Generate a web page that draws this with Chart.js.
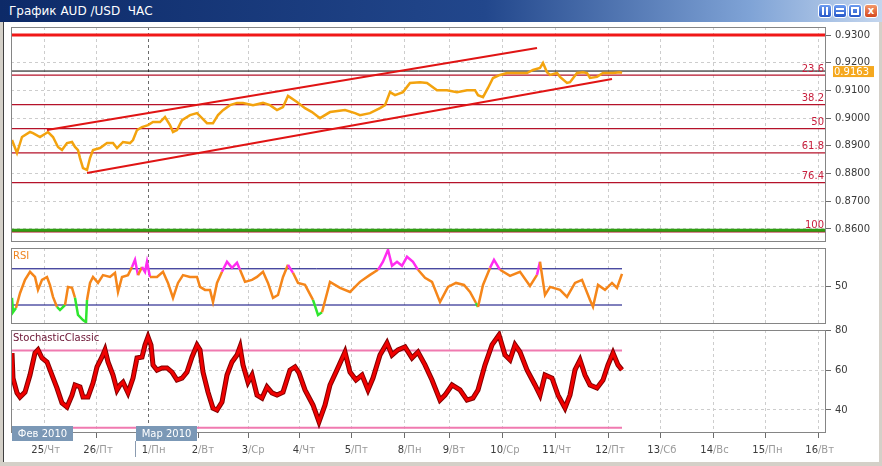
<!DOCTYPE html>
<html>
<head>
<meta charset="utf-8">
<title>AUD/USD</title>
<script src="https://cdn.jsdelivr.net/npm/chart.js@4.4.0/dist/chart.umd.min.js"></script>
<style>
  body { margin:0; width:882px; height:466px; overflow:hidden; background:#d4d0c8; position:relative; font-family:"DejaVu Sans", Verdana, sans-serif; }
  #titleBar { position:absolute; left:0; top:0; width:882px; height:22px; background:linear-gradient(to right,#0d2a68 0%,#22478c 55%,#7fa3d6 85%,#c4d6ee 100%); }
  #titleText { position:absolute; left:9px; top:4px; color:#fff; font-size:12px; white-space:pre; }
  .winBtn { position:absolute; top:4px; width:14px; height:14px; box-sizing:border-box; border:1px solid #fff; border-radius:3px; background:linear-gradient(#6d9cf0,#2456c8); }
  .winBtn i { position:absolute; background:#fff; }
  #client { position:absolute; left:3px; top:22px; width:876px; height:440px; background:#fff; border-left:1px solid #404040; box-sizing:border-box; }
  .panel { position:absolute; left:0; }
  .tag { position:absolute; font-size:10px; line-height:12px; }
  .month { position:absolute; top:426px; width:61px; height:15px; background:#7b98b6; color:#fff; font-size:10px; line-height:15px; text-align:center; }
</style>
</head>
<body>
<div id="titleBar">
  <div id="titleText">График AUD /USD  ЧАС</div>
  <div class="winBtn" style="left:818px"><i style="left:3px;top:2px;width:2px;height:8px"></i><i style="left:7px;top:2px;width:2px;height:8px"></i></div>
  <div class="winBtn" style="left:833px"><i style="left:2px;top:3px;width:8px;height:2px"></i><i style="left:2px;top:7px;width:8px;height:2px"></i></div>
  <div class="winBtn" style="left:848px"><i style="left:2px;top:2px;width:8px;height:8px;background:none;border:2px solid #fff;box-sizing:border-box"></i></div>
  <div class="winBtn" style="left:864px;background:linear-gradient(#f39a6c,#d4461c);color:#fff;font-size:10px;line-height:12px;text-align:center;font-weight:bold">x</div>
</div>
<div id="client"></div>
<canvas id="mainChart" class="panel" width="882" height="223" style="top:22px"></canvas>
<canvas id="rsiChart" class="panel" width="882" height="80" style="top:245px"></canvas>
<canvas id="stochChart" class="panel" width="882" height="137" style="top:325px"></canvas>
<div class="tag" style="left:13px;top:250px;color:#ee8420">RSI</div>
<div class="tag" style="left:13px;top:332px;color:#6a1232">StochasticClassic</div>
<div class="month" style="left:12px">Фев 2010</div>
<div class="month" style="left:136px">Мар 2010</div>
<div style="position:absolute;left:135px;top:441px;width:1px;height:16px;background:#8a9bb0"></div>

<script>
// x axis unit = bar position (hourly bars), day separators
const xMax = 407.5;
const dayTicks = [16.5, 42.5, 68.5, 93.5, 118.5, 144, 170, 196.5, 219, 246, 272, 298.5, 324.5, 351, 377, 403.5];
const dayNums  = ["25", "26", "1", "2", "3", "4", "5", "8", "9", "10", "11", "12", "13", "14", "15", "16"];
const dayNames = ["Чт", "Пт", "Пн", "Вт", "Ср", "Чт", "Пт", "Пн", "Вт", "Ср", "Чт", "Пт", "Сб", "Вс", "Пн", "Вт"];
const monthStart = 68.5;
const lastBar = 305.5;

// price (close)
const priceBars = [
  0.5, 3, 5.5, 9.5, 11, 14.5, 18.5, 21, 23.5, 25.5,
  28, 30.5, 32, 33.5, 34.5, 36, 38, 39.5, 41, 44.5,
  48, 51, 53, 56, 59.5, 61, 63, 65.5, 68.5, 71,
  74.5, 77, 79.5, 81, 83, 85.5, 89.5, 93, 95.5, 98,
  101, 103.5, 106, 109.5, 113, 116, 121, 126, 129.5, 133,
  136, 138.5, 143, 147, 150.5, 154.5, 159.5, 167, 172, 174.5,
  179.5, 184.5, 187, 189.5, 192, 196, 199.5, 204.5, 208, 213,
  218, 223, 228, 232, 233.5, 236, 238.5, 241, 244.5, 248,
  253, 258, 261, 264.5, 266, 268, 269.5, 273, 274.5, 278,
  279.5, 283, 286, 288, 289.5, 293, 296, 301, 304.5, 305.5
];
const priceClose = [
  0.8921, 0.8874, 0.8932, 0.8950, 0.8946, 0.8932, 0.8950, 0.8932, 0.8896, 0.8885,
  0.8910, 0.8914, 0.8896, 0.8885, 0.8856, 0.8820, 0.8813, 0.8856, 0.8885, 0.8892,
  0.8910, 0.8910, 0.8892, 0.8914, 0.8910, 0.8921, 0.8957, 0.8968, 0.8975, 0.8986,
  0.8986, 0.9004, 0.8975, 0.8950, 0.8957, 0.8993, 0.9011, 0.9018, 0.9000, 0.8982,
  0.8982, 0.9011, 0.9029, 0.9047, 0.9055, 0.9055, 0.9047, 0.9055, 0.9047, 0.9029,
  0.9040, 0.9080, 0.9058, 0.9036, 0.9022, 0.9000, 0.9022, 0.9029, 0.9018, 0.9011,
  0.9018, 0.9036, 0.9047, 0.9094, 0.9083, 0.9094, 0.9127, 0.9130, 0.9127, 0.9101,
  0.9101, 0.9094, 0.9101, 0.9101, 0.9083, 0.9076, 0.9109, 0.9145, 0.9156, 0.9163,
  0.9163, 0.9163, 0.9174, 0.9181, 0.9199, 0.9166, 0.9156, 0.9163, 0.9149, 0.9127,
  0.9130, 0.9163, 0.9166, 0.9163, 0.9145, 0.9149, 0.9163, 0.9163, 0.9166, 0.9163
];
const priceTicks = [0.86, 0.87, 0.88, 0.89, 0.90, 0.91, 0.92, 0.93];

// channel
const upperBars = [18, 263];
const upperValues = [0.8957, 0.9253];
const lowerBars = [38, 300.5];
const lowerValues = [0.8802, 0.9141];

// levels
const fibLevels = [0.9155, 0.9049, 0.8962, 0.8875, 0.8767, 0.8590];
const fibLabels = ["23.6", "38.2", "50", "61.8", "76.4", "100"];
const redLevel = 0.9300;
const greenLevel = 0.8595;
const bidLevel = 0.9170;
const lastPriceText = "0.9163";

// RSI
const rsiBars = [
  0.5, 1, 2.5, 4.5, 7, 9.5, 12, 13.5, 15.5, 18,
  19.5, 21, 23, 24.5, 27, 28.5, 30.5, 32, 33.5, 36,
  37.5, 38, 39.5, 41, 43.5, 46, 49.5, 52, 53.5, 55.5,
  58.5, 60.5, 62, 63.5, 65.5, 67, 68, 69.5, 73, 76,
  78.5, 81, 83.5, 86, 89.5, 93, 94.5, 97, 99.5, 101,
  103, 105.5, 108, 110.5, 113, 114.5, 117, 120.5, 123, 126,
  128.5, 131, 133.5, 136, 138.5, 141, 143.5, 147, 151, 153.5,
  155.5, 159.5, 164.5, 169.5, 174.5, 179.5, 183.5, 186, 188.5, 190.5,
  193, 195.5, 198, 201, 203.5, 207, 210.5, 214.5, 218.5, 222.5,
  226.5, 229.5, 232.5, 233.5, 236, 239.5, 241.5, 244.5, 249.5, 254.5,
  259.5, 263, 264.5, 267, 269.5, 274.5, 278, 282, 285.5, 289.5,
  291, 293.5, 297, 300.5, 303, 305.5
];
const rsiValues = [
  37.8, 22, 26.7, 43, 57.8, 66.7, 61, 46.7, 57.8, 61,
  52, 39, 27.8, 24.4, 30, 50, 49, 38, 19, 13.3,
  11, 35.6, 54.4, 61, 54.4, 63, 61, 65.6, 44.4, 61,
  63, 72, 80, 63, 72, 66.7, 77.8, 61, 61, 66.7,
  54.4, 37.8, 54.4, 63, 61, 61, 50, 46.7, 46.7, 33.3,
  54.4, 66.7, 77.8, 71, 76.7, 68.9, 55.6, 57.8, 61, 66.7,
  54.4, 37.8, 41, 61, 74.4, 65.6, 54.4, 52.2, 35.6, 19,
  22, 55.6, 48.9, 44.4, 55.6, 63.3, 68.9, 77.8, 91, 73.3,
  77.8, 73.3, 83.3, 77.8, 68.9, 60, 55.6, 33.3, 50, 54.4,
  52.2, 44.4, 32.2, 27.8, 52.2, 71, 80, 68.9, 62.2, 66.7,
  51.1, 63.3, 77.8, 41, 50, 46.7, 38.9, 54.4, 57.8, 35.6,
  28, 52.2, 46.7, 54.4, 48.9, 64.4
];
const rsiLevels = [70, 30];

// Stochastic
const stochBars = [
  0.5, 1, 3, 4.5, 7, 9.5, 12, 13.5, 15.5, 18,
  20.5, 23, 25.5, 28, 30.5, 32, 34.5, 36, 38.5, 41,
  43, 45.5, 47, 48.5, 51, 53, 54.5, 56, 58.5, 61,
  63, 65.5, 67, 68.5, 70, 71, 73, 75.5, 78, 80.5,
  83, 85.5, 88, 90.5, 93, 94.5, 96, 98.5, 101, 103,
  105.5, 108, 110.5, 113, 114.5, 116, 118.5, 120.5, 123, 125.5,
  128, 130.5, 133, 136, 139.5, 142, 144, 147, 151, 154,
  157, 159.5, 163, 167, 169.5, 172.5, 175.5, 178.5, 181, 184.5,
  188, 190.5, 193.5, 197, 200.5, 203.5, 207, 210.5, 214.5, 217,
  220.5, 224.5, 228, 231, 233.5, 237, 240.5, 244, 247, 249.5,
  252, 254.5, 258, 262, 264.5, 267, 270.5, 273.5, 277, 279.5,
  282, 284.5, 287, 289.5, 293, 296, 298.5, 301, 303.5, 305.5
];
const stochValues = [
  68.7, 56, 48.6, 46.5, 49, 57.6, 68.7, 70.3, 66.2, 64.2,
  57.6, 51, 43.5, 41.5, 47.5, 52.6, 51.6, 46.5, 46.5, 53.6,
  61.7, 66.7, 70.3, 64.2, 57.6, 50, 52.6, 54, 48.6, 56,
  66.2, 66.7, 72.7, 76.8, 72.7, 62.7, 60.1, 61.2, 61.2, 59.1,
  55.1, 56, 59.1, 66.7, 72.7, 70.3, 59.1, 49, 40.9, 40,
  44, 57.6, 64.2, 67.7, 71.8, 62.7, 54, 57.6, 47.5, 46,
  51.6, 48.6, 47.5, 49, 60.1, 61.7, 58.7, 50.1, 42.5, 34,
  42.5, 52.6, 60.2, 69.2, 59.1, 55.1, 57.6, 50.1, 56.1, 67.7,
  73.8, 67.7, 70.3, 71.8, 66.2, 69.2, 62.7, 55.1, 45, 47.5,
  52.6, 50.1, 45, 46, 50.1, 62.7, 72.8, 77.8, 67.7, 65.2,
  72.8, 69.2, 60.2, 52.6, 47.5, 57.6, 56.1, 47.5, 41, 47.5,
  60.2, 65.2, 57.6, 52.6, 51.1, 55.1, 62.7, 68.7, 62.7, 60.2
];
const stochLevels = [70, 31];

const FONT = { family: "DejaVu Sans", size: 10 };

function pts(xs, ys) {
  return xs.map((x, i) => ({ x: x, y: ys[i] }));
}
function hline(v, x0, x1) {
  return [{ x: x0, y: v }, { x: x1, y: v }];
}

function panelOptions(yMin, yMax, yTicks, fmt, padTop, padBottom, xHeight) {
  return {
    responsive: false,
    animation: false,
    events: [],
    layout: { padding: { left: 11, right: 0, top: padTop, bottom: padBottom } },
    plugins: { legend: { display: false }, tooltip: { enabled: false } },
    elements: { point: { radius: 0 }, line: { tension: 0 } },
    scales: {
      x: {
        type: "linear", min: 0, max: xMax,
        afterBuildTicks: s => { s.ticks = dayTicks.map(v => ({ value: v })); },
        afterFit: s => { s.height = xHeight; s.paddingLeft = 0; s.paddingRight = 0; },
        ticks: { display: false },
        grid: {
          color: c => (c.tick && c.tick.value === monthStart) ? "#6c6c6c" : "#cdcdcd",
          drawTicks: xHeight > 0, tickLength: 5, tickColor: "#6c6c6c", tickBorderDash: []
        },
        border: { display: false, dash: [3, 3] }
      },
      y: {
        type: "linear", position: "right", min: yMin, max: yMax,
        afterBuildTicks: s => { s.ticks = yTicks.map(v => ({ value: v })); },
        afterFit: s => { s.width = 56; s.paddingTop = 0; s.paddingBottom = 0; },
        ticks: { callback: fmt, font: FONT, color: "#3a3a3a", padding: 4 },
        grid: { color: "#cdcdcd", tickLength: 5, tickColor: "#6c6c6c", tickBorderDash: [] },
        border: { display: false, dash: [3, 3] }
      }
    }
  };
}

const framePlugin = {
  id: "frame",
  afterDatasetsDraw(chart) {
    const a = chart.chartArea, ctx = chart.ctx;
    ctx.save();
    ctx.strokeStyle = "#858585";
    ctx.lineWidth = 1;
    ctx.strokeRect(a.left + 0.5, a.top + 0.5, a.right - a.left - 1, a.bottom - a.top - 1);
    ctx.restore();
  }
};

const mainLabels = {
  id: "mainLabels",
  afterDatasetsDraw(chart) {
    const ctx = chart.ctx, y = chart.scales.y, right = chart.chartArea.right;
    ctx.save();
    ctx.font = "10px 'DejaVu Sans'";
    ctx.fillStyle = "#c81e3c";
    ctx.textAlign = "right";
    ctx.textBaseline = "bottom";
    fibLevels.forEach((v, i) => ctx.fillText(fibLabels[i], right - 2, y.getPixelForValue(v) - 1));
    const py = y.getPixelForValue(bidLevel);
    ctx.fillStyle = "#f5a81e";
    ctx.fillRect(right + 7, py - 5, 41, 11);
    ctx.fillStyle = "#fff";
    ctx.textAlign = "left";
    ctx.textBaseline = "middle";
    ctx.fillText(lastPriceText, right + 8, py + 1);
    ctx.restore();
  }
};

const dayLabels = {
  id: "dayLabels",
  afterDraw(chart) {
    const ctx = chart.ctx, x = chart.scales.x, yy = chart.chartArea.bottom + 17;
    ctx.save();
    ctx.font = "10px 'DejaVu Sans'";
    ctx.textBaseline = "middle";
    dayTicks.forEach((v, i) => {
      const px = x.getPixelForValue(v);
      ctx.textAlign = "right";
      ctx.fillStyle = "#3c3c3c";
      ctx.fillText(dayNums[i], px, yy);
      ctx.textAlign = "left";
      ctx.fillStyle = "#9a9a9a";
      ctx.fillText("/" + dayNames[i], px, yy);
    });
    ctx.restore();
  }
};

// main price panel
new Chart(document.getElementById("mainChart").getContext("2d"), {
  type: "line",
  data: {
    datasets: [
      { data: pts(upperBars, upperValues), borderColor: "#e01414", borderWidth: 2, order: 0 },
      { data: pts(lowerBars, lowerValues), borderColor: "#e01414", borderWidth: 2, order: 0 },
      { data: pts(priceBars, priceClose), borderColor: "#f3a30e", borderWidth: 2.5, order: 1 },
      { data: hline(redLevel, 0, xMax), borderColor: "#f01818", borderWidth: 3, order: 2 },
      { data: hline(bidLevel, 0, xMax), borderColor: "#000000", borderWidth: 1, order: 2 },
      { data: hline(greenLevel, 0, xMax), borderColor: "#2f9e12", borderWidth: 3, order: 2 },
      ...fibLevels.map(v => ({ data: hline(v, 0, xMax), borderColor: "#b5122a", borderWidth: 1.3, order: 3 }))
    ]
  },
  options: panelOptions(0.8553, 0.9329, priceTicks, v => v.toFixed(4), 5, 3, 0),
  plugins: [framePlugin, mainLabels]
});

// RSI panel: magenta above 70, green below 30
new Chart(document.getElementById("rsiChart").getContext("2d"), {
  type: "line",
  data: {
    datasets: [
      {
        data: pts(rsiBars, rsiValues), borderColor: "#f5861a", borderWidth: 2.5, order: 0,
        segment: {
          borderColor: c => {
            const a = c.p0.parsed.y, b = c.p1.parsed.y, m = (a + b) / 2;
            if (m > 69 || Math.min(a, b) > 68) return "#ff2cf0";
            if (m < 31) return "#2ee62e";
            return "#f5861a";
          }
        }
      },
      ...rsiLevels.map(v => ({ data: hline(v, 0, lastBar), borderColor: "#00007a", borderWidth: 1, order: 1 }))
    ]
  },
  options: panelOptions(9, 93, [50], v => String(v), 3, 1, 0),
  plugins: [framePlugin]
});

// Stochastic panel
new Chart(document.getElementById("stochChart").getContext("2d"), {
  type: "line",
  data: {
    datasets: [
      { data: pts(stochBars, stochValues), borderColor: "#f00000", borderWidth: 3, order: 0 },
      { data: pts(stochBars, stochValues), borderColor: "#820000", borderWidth: 5, order: 1 },
      ...stochLevels.map(v => ({ data: hline(v, 0, lastBar), borderColor: "#f07ab0", borderWidth: 2, order: 2 }))
    ]
  },
  options: panelOptions(28.4, 80.3, [40, 60, 80], v => String(v), 5, 0, 29),
  plugins: [framePlugin, dayLabels]
});
</script>
</body>
</html>
